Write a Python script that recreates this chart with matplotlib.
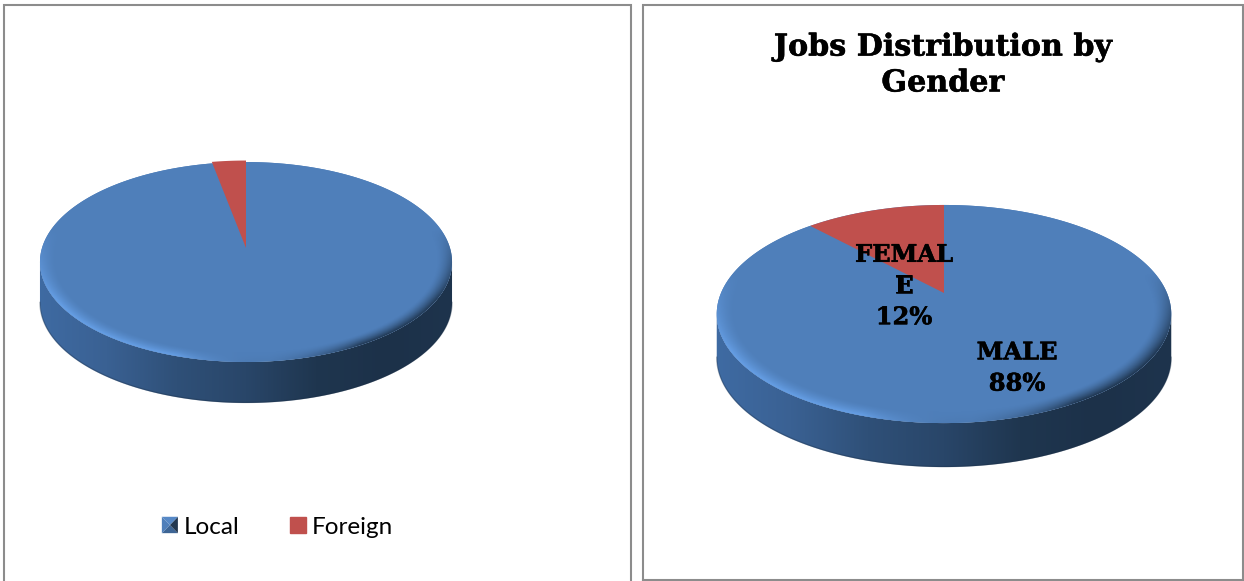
import numpy as np
import matplotlib
matplotlib.use("Agg")
import matplotlib.pyplot as plt
import matplotlib.patheffects as pe
from matplotlib.colors import LinearSegmentedColormap, to_rgb
from matplotlib.legend_handler import HandlerBase
from matplotlib.patches import Patch, PathPatch, Polygon
from matplotlib.path import Path

# data
origin_labels = ["Local", "Foreign"]
origin_values = [97, 3]
gender_labels = ["MALE", "FEMALE"]
gender_values = [88, 12]
gender_label_text = ["MALE\n88%", "FEMAL\nE\n12%"]
chart_title = "Jobs Distribution by\nGender"

BLUE = "#4f7fba"
RED = "#c0504d"
FRAME = "#8c8c8c"
side_cmap = LinearSegmentedColormap.from_list(
    "side", ["#3f6ba3", "#3a6193", "#2f5078", "#294669", "#1f364f", "#1c3149", "#1e344d"])


def project(x, y, pie):
    # perspective view of the unit disc, pixels relative to the centre of the disc
    w = 1 - pie["k"] * y
    return pie["cx"] + pie["a"] * x / w, pie["cy"] - pie["b"] * y / w


def unproject(px, py, pie):
    X = px - pie["cx"]
    Y = pie["cy"] - py
    y = Y / (pie["b"] + pie["k"] * Y)
    x = X * (1 - pie["k"] * y) / pie["a"]
    return x, y


def disc_path(pie):
    t = np.linspace(0, 2 * np.pi, 400)
    px, py = project(np.cos(t), np.sin(t), pie)
    return Path(np.column_stack([px, py]), closed=True)


def draw_pie(ax, values, colors, pie):
    x0, x1 = pie["cx"] - pie["a"] * 1.03, pie["cx"] + pie["a"] * 1.03
    top = pie["cy"] - 120
    bottom = pie["cy"] + 190
    extent = (x0, x1, bottom, top)

    # side wall: the rim arc between the widest points, swept down by the depth
    t = np.linspace(0, 2 * np.pi, 721)
    rx, ry = project(np.cos(t), np.sin(t), pie)
    i_left, i_right = np.argmin(rx), np.argmax(rx)
    arc = np.arange(i_left, i_right + 1) if i_left < i_right else np.r_[i_left:len(t), 0:i_right + 1]
    ux, uy = rx[arc], ry[arc]
    outline = np.vstack([np.column_stack([ux, uy + pie["depth"]]),
                         np.column_stack([ux[::-1], uy[::-1]])])
    gradient = np.linspace(0, 1, 256).reshape(1, -1)
    im = ax.imshow(gradient, cmap=side_cmap, extent=extent, aspect="auto", zorder=1)
    side_patch = Polygon(outline, closed=True, transform=ax.transData, fc="none", ec="none")
    ax.add_patch(side_patch)
    im.set_clip_path(side_patch)
    ax.plot(ux, uy + pie["depth"] - 0.5, color="#1c3048", lw=1.0, alpha=0.35, zorder=2)

    # top face, slices run counter-clockwise from twelve o'clock
    top_patch = PathPatch(disc_path(pie), fc=colors[0], ec="none", zorder=3)
    ax.add_patch(top_patch)
    fractions = np.array(values, dtype=float) / sum(values)
    angle = 90.0 + 360 * fractions[1]
    for i, (frac, color) in enumerate(zip(fractions, colors)):
        sweep = 360 * frac
        th = np.radians(np.linspace(angle, angle + sweep, 200))
        rad = 1.0 + pie["pop"] if i == 1 else 1.0
        sx, sy = project(rad * np.cos(th), rad * np.sin(th), pie)
        cx, cy = project(0.0, 0.0, pie)
        ax.fill(np.r_[cx, sx], np.r_[cy, sy], color=color, lw=0, zorder=3)
        angle += sweep

    # bevel along the rim, bright on the lower left and dark on the lower right
    gx, gy = np.meshgrid(np.linspace(x0, x1, 500), np.linspace(top, bottom, 500))
    ux2, uy2 = unproject(gx, gy, pie)
    r = np.hypot(ux2, uy2)
    phi = np.arctan2(uy2, ux2)
    band = np.clip((r - 0.925) / 0.075, 0, 1) ** 1.5
    band = band * np.clip((-np.sin(phi) + 0.2) / 0.7, 0, 1)
    light = np.array(to_rgb("#6aa5ee"))
    dark = np.array(to_rgb("#16283c"))
    mix = np.clip((np.cos(phi) + 0.3) / 0.8, 0, 1)
    rgba = np.zeros(gx.shape + (4,))
    rgba[..., :3] = light * (1 - mix[..., None]) + dark * mix[..., None]
    rgba[..., 3] = band * (0.15 + 0.7 * np.abs(2 * mix - 1))
    bevel = ax.imshow(rgba, extent=extent, aspect="auto", zorder=4, interpolation="bilinear")
    bevel.set_clip_path(top_patch)


class SquareBevelHandler(HandlerBase):
    # small pyramid style legend key
    def create_artists(self, legend, orig_handle, xdescent, ydescent, width, height, fontsize, trans):
        x0, y0 = -xdescent, -ydescent
        xc, yc = x0 + width / 2, y0 + height / 2
        corners = [(x0, y0), (x0 + width, y0), (x0 + width, y0 + height), (x0, y0 + height)]
        shades = ["#3d6595", "#22374f", "#5688c6", "#4f7fba"]
        artists = []
        for i, shade in enumerate(shades):
            tri = Polygon([corners[i], corners[(i + 1) % 4], (xc, yc)], closed=True,
                          fc=shade, ec="none", transform=trans)
            artists.append(tri)
        return artists


fig = plt.figure(figsize=(12.44, 5.81), dpi=100)
ax = fig.add_axes([0, 0, 1, 1])
ax.set_xlim(0, 1244)
ax.set_ylim(581, 0)
ax.axis("off")

# panel borders
ax.plot([3.5, 3.5, 630.5, 630.5], [581, 5, 5, 581], color=FRAME, lw=1.5, zorder=0, solid_joinstyle="miter")
ax.plot([642.5, 642.5, 1242.5, 1242.5, 642.5], [581, 5, 5, 579.5, 579.5], color=FRAME, lw=1.5, zorder=0,
        solid_joinstyle="miter")

left_pie = dict(cx=246, cy=248, a=204, b=98, k=-0.14, depth=41, pop=0.02)
right_pie = dict(cx=944, cy=293, a=223, b=105, k=-0.1927, depth=44, pop=0.0)

draw_pie(ax, origin_values, [BLUE, RED], left_pie)
draw_pie(ax, gender_values, [BLUE, RED], right_pie)

ax.set_xlim(0, 1244)
ax.set_ylim(581, 0)

# slight stroke gives the heavier serif weight
heavy = [pe.withStroke(linewidth=0.4, foreground="black")]
serif = dict(family="DejaVu Serif", weight="bold", color="black", ha="center", va="center", zorder=6,
             path_effects=heavy)
ax.text(943, 65, chart_title, fontsize=21.7, linespacing=1.3, **serif)
ax.text(1017, 368, gender_label_text[0], fontsize=17.4, linespacing=1.38, **serif)
ax.text(904, 286, gender_label_text[1], fontsize=17.4, linespacing=1.38, **serif)

handles = [Patch(color=BLUE, label=origin_labels[0]), Patch(color=RED, label=origin_labels[1])]
ax.legend(handles=handles, loc="center", bbox_to_anchor=(277.5, 527), bbox_transform=ax.transData,
          ncol=2, frameon=False, handlelength=0.66, handleheight=0.66, handletextpad=0.25,
          columnspacing=2.06, borderpad=0, borderaxespad=0,
          handler_map={handles[0]: SquareBevelHandler()},
          prop=dict(family="Lato", size=17.5))

fig.savefig("out.png", dpi=100)
